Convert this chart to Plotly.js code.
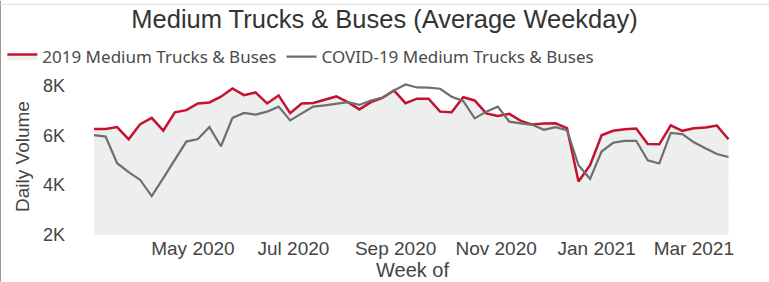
<!DOCTYPE html>
<html>
<head>
<meta charset="utf-8">
<script src="https://cdn.plot.ly/plotly-3.0.1.min.js"></script>
<style>html,body{margin:0;padding:0;background:#fff;}#chart{width:769px;height:282px;}</style>
</head>
<body>
<div id="chart"></div>
<script>
// Week start dates (weekly, Mondays)
const startWeek = '2020-03-02';
const weekCount = 56;
const weeks = [];
(function(){
  const d0 = new Date(startWeek + 'T00:00:00Z');
  for (let i = 0; i < weekCount; i++) {
    const d = new Date(d0.getTime() + i * 7 * 86400000);
    weeks.push(d.toISOString().slice(0, 10));
  }
})();

const series2019Name = '2019 Medium Trucks & Buses';
const series2019 = [
  6250, 6250, 6330, 5840, 6450, 6700, 6190, 6920, 7010, 7280,
  7320, 7550, 7880, 7610, 7720, 7280, 7600, 6890, 7280, 7300,
  7430, 7560, 7330, 7040, 7330, 7500, 7800, 7290, 7470, 7470,
  6950, 6930, 7530, 7400, 6880, 6780, 6860, 6580, 6430, 6470,
  6480, 6290, 4150, 4800, 6000, 6180, 6240, 6270, 5650, 5640,
  6400, 6180, 6280, 6310, 6390, 5840
];

const seriesCovidName = 'COVID-19 Medium Trucks & Buses';
const seriesCovid = [
  6010, 5950, 4880, 4520, 4210, 3560, 4280, 5010, 5750, 5850,
  6330, 5560, 6700, 6900, 6830, 6950, 7150, 6600, 6880, 7150,
  7200, 7280, 7330, 7220, 7400, 7520, 7800, 8040, 7920, 7910,
  7870, 7550, 7380, 6680, 6950, 7150, 6550, 6480, 6420, 6220,
  6330, 6210, 4800, 4250, 5350, 5700, 5780, 5780, 5000, 4870,
  6100, 6050, 5720, 5480, 5250, 5130
];

const xTickVals = ['2020-05-01', '2020-07-01', '2020-09-01', '2020-11-01', '2021-01-01', '2021-03-01'];
const xTickText = ['May 2020', 'Jul 2020', 'Sep 2020', 'Nov 2020', 'Jan 2021', 'Mar 2021'];
const yTickVals = [2000, 4000, 6000, 8000];
const yTickText = ['2K', '4K', '6K', '8K'];

const traces = [
  {
    x: weeks, y: series2019, name: series2019Name, type: 'scatter', mode: 'lines',
    line: {color: '#c4122f', width: 2.5},
    fill: 'tozeroy', fillcolor: '#edefef'
  },
  {
    x: weeks, y: seriesCovid, name: seriesCovidName, type: 'scatter', mode: 'lines',
    line: {color: '#6e6e6e', width: 2.2}
  }
];

const axisFont = 'Liberation Sans, Arial, sans-serif';

const layout = {
  width: 769, height: 282,
  paper_bgcolor: '#ffffff', plot_bgcolor: '#ffffff',
  margin: {l: 85, r: 29, t: 77.5, b: 47, pad: 0},
  title: {
    text: 'Medium Trucks & Buses (Average Weekday)',
    font: {family: axisFont, size: 25.5, color: '#333333'},
    x: 0.5, xanchor: 'center', xref: 'container',
    y: 1 - 19/282, yanchor: 'middle', yref: 'container'
  },
  showlegend: true,
  legend: {
    orientation: 'h', xref: 'container', yref: 'container',
    x: 0.003, xanchor: 'left', y: 1 - 57/282, yanchor: 'middle',
    font: {family: 'Noto Sans, Open Sans, sans-serif', size: 17, color: '#4a4a4a'},
    itemwidth: 30,
    tracegroupgap: 0, bgcolor: 'rgba(0,0,0,0)', traceorder: 'normal'
  },
  xaxis: {
    type: 'date',
    range: ['2020-02-25 12:00', '2021-03-29 00:00'],
    tickvals: xTickVals, ticktext: xTickText,
    showgrid: false, zeroline: false, showline: false, ticks: '',
    tickfont: {family: axisFont, size: 19, color: '#444444'},
    title: {text: 'Week of', font: {family: axisFont, size: 20, color: '#444444'}, standoff: 0},
    automargin: false
  },
  yaxis: {
    range: [2000, 8300],
    tickvals: yTickVals, ticktext: yTickText,
    showgrid: false, zeroline: false, showline: false, ticks: '',
    ticklabelstandoff: 19,
    tickfont: {family: axisFont, size: 18, color: '#444444'},
    title: {text: 'Daily Volume', font: {family: axisFont, size: 19, color: '#444444'}, standoff: 8},
    automargin: false
  },
  shapes: [
    {type: 'line', xref: 'paper', yref: 'paper', x0: -85/655, x1: -85/655, y0: -47/157.5, y1: 1 + 77.5/157.5,
     line: {color: '#777777', width: 1.5}},
    {type: 'line', xref: 'paper', yref: 'paper', x0: -85/655, x1: 1 + 29/655, y0: 1 + 74/157.5, y1: 1 + 74/157.5,
     line: {color: '#dddddd', width: 1}}
  ]
};

Plotly.newPlot('chart', traces, layout, {displayModeBar: false, staticPlot: true});
</script>
</body>
</html>
